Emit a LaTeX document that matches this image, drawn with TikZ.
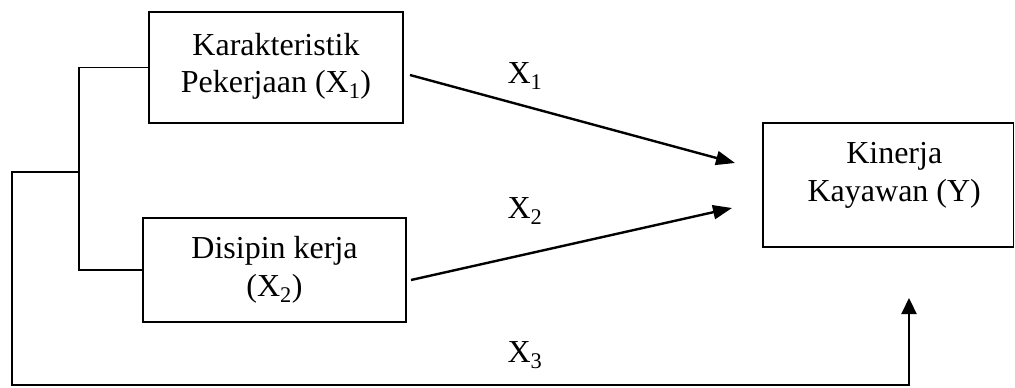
\documentclass[tikz,border=0pt]{standalone}
\usepackage{fontspec}
\setmainfont{Liberation Serif}
\usetikzlibrary{arrows.meta}
% two centred lines with fixed baselines inside a box of fixed size
\newcommand{\boxtext}[6]{\vbox to #2{\offinterlineskip\vskip #3\relax
  \hbox to #1{\hss\smash{#5}\hss}\vskip\dimexpr #4-#3\relax
  \hbox to #1{\hss\smash{#6}\hss}\vss}}
\begin{document}
\begin{tikzpicture}[x=1pt,y=-1pt,font=\fontsize{32}{38}\selectfont,
  box/.style={draw,line width=1.6pt,inner sep=0pt,outer sep=0pt},
  link/.style={line width=1.8pt},
  arr/.style={line width=2.4pt,-{Triangle[length=19pt,width=14pt]}},
  uparr/.style={line width=2.2pt,-{Triangle[length=16pt,width=15pt]}},
  lab/.style={anchor=base,inner sep=0pt}]
\useasboundingbox (0,0) rectangle (1015,388);
\node[box] (b1) at (276,67.5)
  {\boxtext{254pt}{111pt}{43pt}{80pt}{Karakteristik}{Pekerjaan (X\textsubscript{1})}};
\node[box] (b2) at (274.5,270)
  {\boxtext{263pt}{104pt}{40pt}{78pt}{Disipin kerja}{(X\textsubscript{2})}};
\node[box] (by) at (888.25,185)
  {\boxtext{250.5pt}{124pt}{40pt}{78pt}{\hskip12pt Kinerja}{\hskip12pt Kayawan (Y)}};
\coordinate (jn) at (79,172);
\coordinate (oc) at (12,172);
\coordinate (t3) at ([shift={(20.75,51)}]by.south);
\coordinate (bc) at (909,385);
\draw[link] (b1.west) -| (jn) |- (b2.west);
\draw[uparr] (jn) -- (oc) |- (bc) -- (t3);
\draw[arr] ([shift={(7,7.5)}]b1.east) -- ([shift={(-28,-22)}]by.west);
\draw[arr] ([shift={(5,10)}]b2.east) -- ([shift={(-31,23)}]by.west);
\node[lab] (l1) at (525,83) {X\textsubscript{1}};
\node[lab] (l2) at (525,218) {X\textsubscript{2}};
\node[lab] (l3) at (525,362) {X\textsubscript{3}};
\end{tikzpicture}
\end{document}
